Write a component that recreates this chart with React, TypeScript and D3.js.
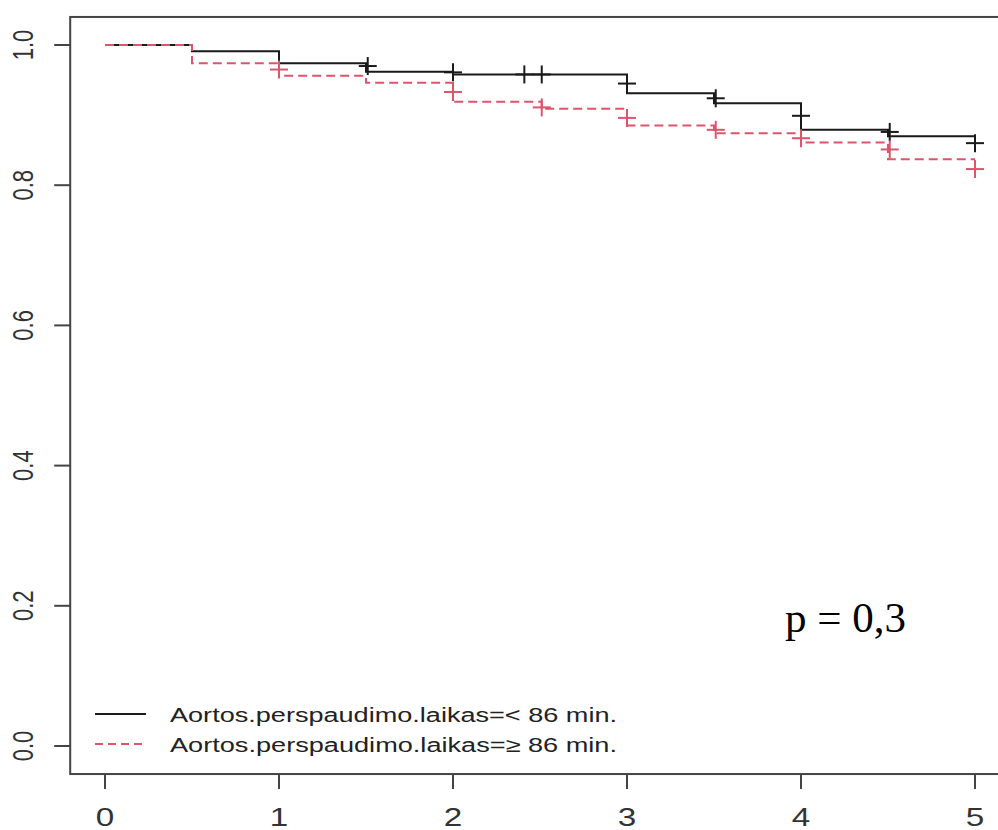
import React from "react";
import * as d3 from "d3";

// survival steps, group "< 86 min."
const shortTimes = [0, 0.5, 1, 1.5, 2, 3, 3.5, 4, 4.5, 5];
const shortSurv = [1, 0.991, 0.974, 0.962, 0.958, 0.931, 0.917, 0.879, 0.87, 0.87];
const shortCensT = [1.51, 2.0, 2.41, 2.51, 3.0, 3.51, 4.0, 4.51, 5.0];
const shortCensS = [0.97, 0.961, 0.958, 0.958, 0.945, 0.924, 0.899, 0.876, 0.86];

// group ">= 86 min."
const longTimes = [0, 0.5, 1, 1.5, 2, 2.51, 3, 3.5, 4, 4.5, 5];
const longSurv = [1, 0.974, 0.956, 0.946, 0.919, 0.909, 0.885, 0.874, 0.861, 0.837, 0.837];
const longCensT = [1.0, 2.0, 2.51, 3.0, 3.51, 4.0, 4.51, 5.0];
const longCensS = [0.965, 0.933, 0.911, 0.896, 0.879, 0.867, 0.851, 0.823];

const xTicks = [0, 1, 2, 3, 4, 5];
const yTicks = [0, 0.2, 0.4, 0.6, 0.8, 1.0];
const legendLabels = [
  "Aortos.perspaudimo.laikas=< 86 min.",
  "Aortos.perspaudimo.laikas=\u2265 86 min.",
];
const pText = "p = 0,3";

const black = "#1a1a1a";
const pink = "#DF536B";
const axisCol = "#444";

const x = d3.scaleLinear().domain([0, 5]).range([105, 975]);
const y = d3.scaleLinear().domain([0, 1]).range([746, 45]);

const stepLine = d3
  .line<[number, number]>()
  .x((d) => x(d[0]))
  .y((d) => y(d[1]))
  .curve(d3.curveStepAfter);

const zip = (a: number[], b: number[]) => a.map((v, i) => [v, b[i]] as [number, number]);

function Marks({ ts, ss, color }: { ts: number[]; ss: number[]; color: string }) {
  const h = 9;
  return (
    <g stroke={color} strokeWidth={2}>
      {ts.map((t, i) => (
        <g key={i}>
          <line x1={x(t) - h} x2={x(t) + h} y1={y(ss[i])} y2={y(ss[i])} />
          <line x1={x(t)} x2={x(t)} y1={y(ss[i]) - h} y2={y(ss[i]) + h} />
        </g>
      ))}
    </g>
  );
}

export default function App() {
  const left = x(-0.2);
  const right = x(5.2);
  const top = y(1.04);
  const bottom = y(-0.04);
  const font = "'Liberation Sans', Arial, sans-serif";

  return (
    <svg
      width={998}
      height={830}
      style={{ position: "absolute", left: 0, top: 0, background: "#fff" }}
    >
      <rect x={0} y={0} width={998} height={830} fill="#fff" />
      <rect
        x={left}
        y={top}
        width={right - left}
        height={bottom - top}
        fill="none"
        stroke={axisCol}
        strokeWidth={2}
      />
      {/* y axis */}
      {yTicks.map((t) => (
        <g key={t}>
          <line x1={left - 16} x2={left} y1={y(t)} y2={y(t)} stroke={axisCol} strokeWidth={2} />
          <text
            transform={`translate(23,${y(t)}) scale(1.36,1) rotate(-90)`}
            textAnchor="middle"
            dominantBaseline="central"
            fontFamily={font}
            fontSize={22}
            fill="#333"
          >
            {t.toFixed(1)}
          </text>
        </g>
      ))}
      {/* x axis */}
      {xTicks.map((t) => (
        <g key={t}>
          <line x1={x(t)} x2={x(t)} y1={bottom} y2={bottom + 15} stroke={axisCol} strokeWidth={2} />
          <text
            transform={`translate(${x(t)},826) scale(1.28,1)`}
            textAnchor="middle"
            fontFamily={font}
            fontSize={26}
            fill="#333"
          >
            {t}
          </text>
        </g>
      ))}

      <path d={stepLine(zip(shortTimes, shortSurv)) || ""} fill="none" stroke={black} strokeWidth={2} />
      <path
        d={stepLine(zip(longTimes, longSurv)) || ""}
        fill="none"
        stroke={pink}
        strokeWidth={2}
        strokeDasharray="9,5"
      />
      <Marks ts={shortCensT} ss={shortCensS} color={black} />
      <Marks ts={longCensT} ss={longCensS} color={pink} />

      {/* legend */}
      {legendLabels.map((l, i) => (
        <g key={l}>
          <line
            x1={95}
            x2={146}
            y1={714 + i * 30}
            y2={714 + i * 30}
            stroke={i === 0 ? black : pink}
            strokeWidth={2}
            strokeDasharray={i === 0 ? undefined : "8,5"}
          />
          <text
            x={170}
            y={722 + i * 30}
            fontFamily={font}
            fontSize={20}
            fill="#222"
            textLength={447}
            lengthAdjust="spacingAndGlyphs"
          >
            {l}
          </text>
        </g>
      ))}

      <text x={785} y={632} fontFamily="'Liberation Serif', 'Times New Roman', serif" fontSize={43} fill="#000">
        {pText}
      </text>
    </svg>
  );
}
